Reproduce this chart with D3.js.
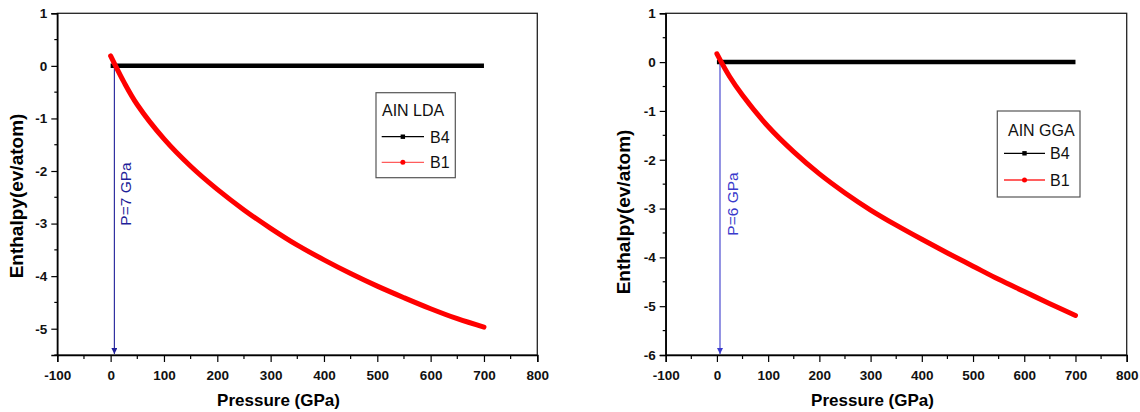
<!DOCTYPE html>
<html>
<head>
<meta charset="utf-8">
<script src="https://cdn.jsdelivr.net/npm/d3@7"></script>
<style>
  body { margin: 0; background: #fff; }
  svg text { font-family: Arial, "Liberation Sans", sans-serif; }
</style>
</head>
<body>
<div id="chart"></div>
<script>
// pressure grid (GPa) shared by both panels
var pressure = [0, 25, 50, 100, 150, 200, 250, 300, 350, 400, 450, 500, 550, 600, 650, 700];

// B4 (wurtzite) is the reference, so it sits at 0
var b4Lda = [0, 0, 0, 0, 0, 0, 0, 0, 0, 0, 0, 0, 0, 0, 0, 0];
var b1Lda = [0.19, -0.31, -0.74, -1.39, -1.91, -2.35, -2.74, -3.09, -3.41, -3.69, -3.95, -4.19, -4.41, -4.62, -4.81, -4.97];

var b4Gga = [0, 0, 0, 0, 0, 0, 0, 0, 0, 0, 0, 0, 0, 0, 0, 0];
var b1Gga = [0.17, -0.30, -0.68, -1.32, -1.84, -2.29, -2.68, -3.03, -3.34, -3.63, -3.91, -4.18, -4.45, -4.70, -4.95, -5.19];

var xTicks = [-100, 0, 100, 200, 300, 400, 500, 600, 700, 800];
var yTicksLda = [1, 0, -1, -2, -3, -4, -5];
var yTicksGga = [1, 0, -1, -2, -3, -4, -5, -6];

var transLda = 7;
var transGga = 6;

function init() {
    const w = 1140;
    const h = 412;

    var svg = d3.select("#chart")
        .append("svg")
        .attr("width", w)
        .attr("height", h);

    var defs = svg.append("defs");

    drawPanel(svg, defs, {
        id: "lda",
        left: 57.3, right: 537.3, top: 13.3, bottom: 355,
        yDomain: [-5.5, 1],
        yTicks: yTicksLda,
        b4: b4Lda, b1: b1Lda,
        trans: transLda,
        arrowColor: "#1f1f99",
        arrowLabelX: 131, arrowLabelY: 194,
        title: "AIN LDA",
        legend: { x: 376, y: 92.7, w: 79.3, h: 85, tx: 382, ty: 116, row1: 136.7, row2: 162.3, lx0: 381.7, lx1: 424, textX: 430 },
        b1LegendColor: "#ff5c5c",
        yLabelX: 23, yLabelY: 196,
        xLabelX: 278.5
    });

    drawPanel(svg, defs, {
        id: "gga",
        left: 665.7, right: 1126.7, top: 13.3, bottom: 355,
        yDomain: [-6, 1],
        yTicks: yTicksGga,
        b4: b4Gga, b1: b1Gga,
        trans: transGga,
        arrowColor: "#3a3acc",
        arrowLabelX: 738, arrowLabelY: 204,
        title: "AIN GGA",
        legend: { x: 997.3, y: 111, w: 82.7, h: 86, tx: 1008, ty: 136, row1: 153.3, row2: 180, lx0: 1004, lx1: 1045, textX: 1050 },
        b1LegendColor: "#ff2a2a",
        yLabelX: 630, yLabelY: 212,
        xLabelX: 872.5
    });
}

function drawPanel(svg, defs, cfg) {
    var g = svg.append("g");

    var xScale = d3.scaleLinear()
        .domain([-100, 800])
        .range([cfg.left, cfg.right]);

    var yScale = d3.scaleLinear()
        .domain(cfg.yDomain)
        .range([cfg.bottom, cfg.top]);

    // plain hyphen, like the original
    var fmt = (d) => String(d);

    // minor ticks every 50 GPa / 0.5 eV
    var xMinor = d3.range(-50, 800, 100);
    var yMinor = d3.range(cfg.yDomain[0], cfg.yDomain[1], 0.5)
        .filter((v) => Math.abs(v - Math.round(v)) > 0.1);

    // frame
    g.append("rect")
        .attr("x", cfg.left)
        .attr("y", cfg.top)
        .attr("width", cfg.right - cfg.left)
        .attr("height", cfg.bottom - cfg.top)
        .attr("fill", "none")
        .attr("stroke", "#222")
        .attr("stroke-width", 1.3);

    // x axis
    var xAxis = d3.axisBottom(xScale)
        .tickValues(xTicks)
        .tickSize(7)
        .tickFormat(fmt);

    var gx = g.append("g")
        .attr("transform", "translate(0," + cfg.bottom + ")")
        .call(xAxis);
    gx.select(".domain").attr("stroke-width", 1.5);
    gx.selectAll(".tick line").attr("stroke-width", 1.2);
    gx.selectAll("text")
        .attr("font-size", "13.5px")
        .attr("font-weight", "bold")
        .attr("fill", "#111")
        .attr("font-family", "Arial, 'Liberation Sans', sans-serif")
        .attr("dy", null)
        .attr("y", 25);

    g.append("g")
        .selectAll("line")
        .data(xMinor)
        .enter()
        .append("line")
        .attr("x1", (d) => xScale(d))
        .attr("x2", (d) => xScale(d))
        .attr("y1", cfg.bottom)
        .attr("y2", cfg.bottom + 4)
        .attr("stroke", "#000")
        .attr("stroke-width", 1.2);

    // y axis
    var yAxis = d3.axisLeft(yScale)
        .tickValues(cfg.yTicks)
        .tickSize(6)
        .tickPadding(4)
        .tickFormat(fmt);

    var gy = g.append("g")
        .attr("transform", "translate(" + cfg.left + ",0)")
        .call(yAxis);
    gy.select(".domain").attr("stroke-width", 1.5);
    gy.selectAll(".tick line").attr("stroke-width", 1.2);
    gy.selectAll("text")
        .attr("font-size", "13.5px")
        .attr("font-weight", "bold")
        .attr("fill", "#111")
        .attr("font-family", "Arial, 'Liberation Sans', sans-serif");

    g.append("g")
        .selectAll("line")
        .data(yMinor)
        .enter()
        .append("line")
        .attr("x1", cfg.left)
        .attr("x2", cfg.left - 3)
        .attr("y1", (d) => yScale(d))
        .attr("y2", (d) => yScale(d))
        .attr("stroke", "#000")
        .attr("stroke-width", 1.2);

    // axis titles
    g.append("text")
        .attr("x", cfg.xLabelX)
        .attr("y", 406)
        .attr("text-anchor", "middle")
        .attr("font-size", "17px")
        .attr("font-weight", "bold")
        .text("Pressure (GPa)");

    g.append("text")
        .attr("transform", "translate(" + cfg.yLabelX + "," + cfg.yLabelY + ") rotate(-90)")
        .attr("text-anchor", "middle")
        .attr("font-size", "19px")
        .attr("font-weight", "bold")
        .text("Enthalpy(ev/atom)");

    var line = d3.line()
        .x((d) => xScale(d[0]))
        .y((d) => yScale(d[1]))
        .curve(d3.curveCatmullRom.alpha(0.5));

    // B4 reference line
    g.append("path")
        .datum(pressure.map((p, i) => [p, cfg.b4[i]]))
        .attr("d", line)
        .attr("fill", "none")
        .attr("stroke", "#000")
        .attr("stroke-width", 4.5);

    // transition pressure arrow
    var markerId = "arrow-" + cfg.id;
    defs.append("marker")
        .attr("id", markerId)
        .attr("viewBox", "0 0 10 10")
        .attr("refX", 10)
        .attr("refY", 5)
        .attr("markerUnits", "userSpaceOnUse")
        .attr("markerWidth", 9)
        .attr("markerHeight", 6)
        .attr("orient", "auto")
        .append("path")
        .attr("d", "M0,0L10,5L0,10Z")
        .attr("fill", cfg.arrowColor);

    g.append("line")
        .attr("x1", xScale(cfg.trans))
        .attr("x2", xScale(cfg.trans))
        .attr("y1", yScale(0))
        .attr("y2", cfg.bottom - 1)
        .attr("stroke", cfg.arrowColor)
        .attr("stroke-width", 1.1)
        .attr("marker-end", "url(#" + markerId + ")");

    g.append("text")
        .attr("transform", "translate(" + cfg.arrowLabelX + "," + cfg.arrowLabelY + ") rotate(-90)")
        .attr("text-anchor", "middle")
        .attr("font-size", "15.5px")
        .attr("fill", cfg.arrowColor)
        .text("P=" + cfg.trans + " GPa");

    // B1 rocksalt curve
    g.append("path")
        .datum(pressure.map((p, i) => [p, cfg.b1[i]]))
        .attr("d", line)
        .attr("fill", "none")
        .attr("stroke", "#ff0000")
        .attr("stroke-width", 5)
        .attr("stroke-linecap", "round");

    // legend
    var lg = cfg.legend;
    g.append("rect")
        .attr("x", lg.x)
        .attr("y", lg.y)
        .attr("width", lg.w)
        .attr("height", lg.h)
        .attr("fill", "#fff")
        .attr("stroke", "#555")
        .attr("stroke-width", 1.2);

    g.append("text")
        .attr("x", lg.tx)
        .attr("y", lg.ty)
        .attr("font-size", "16px")
        .attr("fill", "#111")
        .text(cfg.title);

    var rows = [
        { name: "B4", y: lg.row1, color: "#000", shape: "square" },
        { name: "B1", y: lg.row2, color: cfg.b1LegendColor, shape: "circle" }
    ];

    var items = g.selectAll(".leg-" + cfg.id)
        .data(rows)
        .enter()
        .append("g")
        .attr("class", "leg-" + cfg.id);

    items.append("line")
        .attr("x1", lg.lx0)
        .attr("x2", lg.lx1)
        .attr("y1", (d) => d.y)
        .attr("y2", (d) => d.y)
        .attr("stroke", (d) => d.color)
        .attr("stroke-width", 1.3);

    items.filter((d) => d.shape === "square")
        .append("rect")
        .attr("x", (lg.lx0 + lg.lx1) / 2 - 2.2)
        .attr("y", (d) => d.y - 2.2)
        .attr("width", 4.4)
        .attr("height", 4.4)
        .attr("fill", "#000");

    items.filter((d) => d.shape === "circle")
        .append("circle")
        .attr("cx", (lg.lx0 + lg.lx1) / 2)
        .attr("cy", (d) => d.y)
        .attr("r", 2.5)
        .attr("fill", "#ff0000");

    items.append("text")
        .attr("x", lg.textX)
        .attr("y", (d) => d.y + 6)
        .attr("font-size", "16px")
        .attr("fill", "#111")
        .text((d) => d.name);
}

window.onload = init;
</script>
</body>
</html>
